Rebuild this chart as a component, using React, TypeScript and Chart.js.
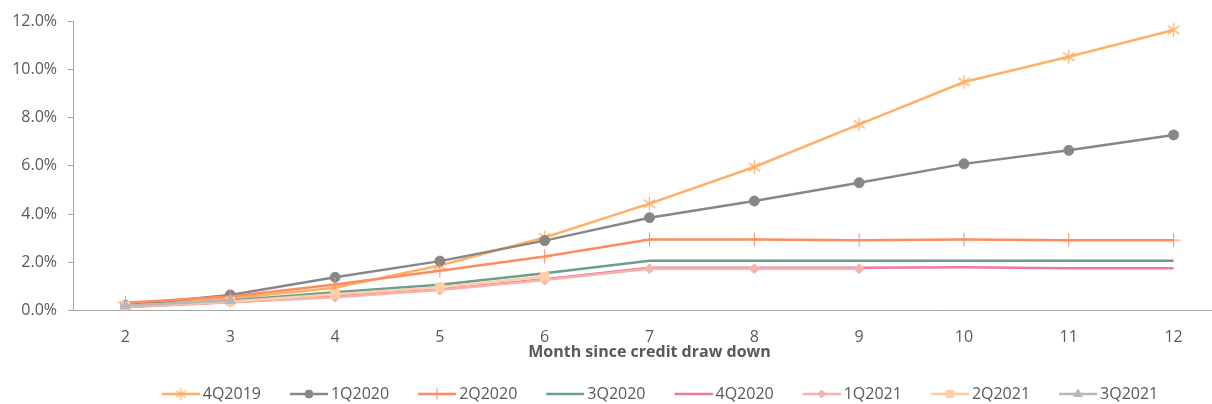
import React, { useEffect, useRef } from 'react';
import { Chart, registerables } from 'chart.js';
import { drawPoint } from 'chart.js/helpers';

Chart.register(...registerables);

const months = ['2', '3', '4', '5', '6', '7', '8', '9', '10', '11', '12'];
const seriesNames = ['4Q2019', '1Q2020', '2Q2020', '3Q2020', '4Q2020', '1Q2021', '2Q2021', '3Q2021'];
const s4Q2019 = [0.2, 0.5, 0.95, 1.87, 3.03, 4.43, 5.95, 7.72, 9.47, 10.52, 11.63];
const s1Q2020 = [0.22, 0.65, 1.38, 2.05, 2.9, 3.85, 4.54, 5.3, 6.08, 6.64, 7.28];
const s2Q2020 = [0.33, 0.58, 1.08, 1.65, 2.24, 2.95, 2.95, 2.92, 2.95, 2.92, 2.92];
const s3Q2020 = [0.15, 0.42, 0.76, 1.07, 1.55, 2.07, 2.07, 2.07, 2.07, 2.07, 2.07];
const s4Q2020 = [0.15, 0.35, 0.6, 0.88, 1.3, 1.78, 1.78, 1.78, 1.8, 1.76, 1.76];
const s1Q2021 = [0.15, 0.35, 0.55, 0.85, 1.27, 1.73, 1.73, 1.73];
const s2Q2021 = [0.2, 0.38, 0.68, 0.97, 1.41];
const s3Q2021 = [0.2, 0.42];
const yTicks = [0, 2, 4, 6, 8, 10, 12];

const seriesData = [s4Q2019, s1Q2020, s2Q2020, s3Q2020, s4Q2020, s1Q2021, s2Q2021, s3Q2021];
const colors = ['#FFB066', '#878787', '#FF8C5E', '#6B9E8C', '#F07BA0', '#F4B3AE', '#FFCDA6', '#B8B8B8'];
const styles: any[] = ['asterisk', 'circle', 'cross', false, false, 'rectRot', 'rect', 'triangle'];
const radii = [6, 5, 7, 0, 0, 5, 6, 6];
const borderWidths = [1.5, 1, 1, 1, 1, 1, 1, 1];

const FONT = 'Open Sans';
const TEXT = '#595959';
const AXIS = '#A6A6A6';
const BOX_W = 54;
const CANVAS_H = 412;

function makeAsterisk(color: string, r: number) {
  const s = Math.ceil(r * 2 + 3);
  const c = document.createElement('canvas');
  c.width = s;
  c.height = s;
  const ctx = c.getContext('2d')!;
  const m = s / 2;
  ctx.strokeStyle = color;
  ctx.lineWidth = 1.3;
  ctx.beginPath();
  ctx.moveTo(m, m - r);
  ctx.lineTo(m, m + r);
  const dx = r * Math.cos(Math.PI / 5);
  const dy = r * Math.sin(Math.PI / 5);
  ctx.moveTo(m - dx, m - dy);
  ctx.lineTo(m + dx, m + dy);
  ctx.moveTo(m + dx, m - dy);
  ctx.lineTo(m - dx, m + dy);
  ctx.stroke();
  return c;
}

function makeIcon(color: string, style: any, radius: number, bw: number) {
  const w = BOX_W + 10;
  const h = 16;
  const lineStart = w - 38;
  const c = document.createElement('canvas');
  c.width = w;
  c.height = h;
  const ctx = c.getContext('2d')!;
  ctx.strokeStyle = color;
  ctx.lineWidth = 2.5;
  ctx.beginPath();
  ctx.moveTo(lineStart, h / 2);
  ctx.lineTo(w, h / 2);
  ctx.stroke();
  const cx = lineStart + 19;
  if (style === 'asterisk') {
    const a = makeAsterisk(color, radius);
    ctx.drawImage(a, cx - a.width / 2, h / 2 - a.height / 2);
  } else if (style) {
    ctx.fillStyle = color;
    ctx.strokeStyle = color;
    ctx.lineWidth = bw;
    drawPoint(ctx, { pointStyle: style, rotation: 0, radius: Math.max(radius - 1, 3), borderWidth: bw } as any, cx, h / 2);
  }
  return c;
}

export default function App() {
  const ref = useRef<HTMLCanvasElement>(null);
  useEffect(() => {
    if (!ref.current) return;
    const icons = seriesNames.map((_, i) => makeIcon(colors[i], styles[i], radii[i], borderWidths[i]));
    const datasets = seriesNames.map((name, i) => ({
      label: name,
      data: seriesData[i],
      borderColor: colors[i],
      backgroundColor: colors[i],
      borderWidth: 2.5,
      pointStyle: styles[i] === 'asterisk' ? makeAsterisk(colors[i], radii[i] + 1) : styles[i] || 'circle',
      pointRadius: radii[i],
      pointBorderWidth: borderWidths[i],
      pointBackgroundColor: colors[i],
      pointBorderColor: colors[i],
      tension: 0,
      order: 10 - i,
    }));
    const chart = new Chart(ref.current, {
      type: 'line',
      data: { labels: months, datasets },
      options: {
        animation: false,
        responsive: true,
        maintainAspectRatio: false,
        layout: { padding: { left: 0, right: 14, top: 21, bottom: 0 } },
        plugins: {
          legend: {
            position: 'bottom',
            fullSize: false,
            labels: {
              usePointStyle: true,
              pointStyleWidth: BOX_W,
              padding: 8,
              color: TEXT,
              font: { family: FONT, size: 16 },
              generateLabels: (ch: any) =>
                ch.data.datasets.map((ds: any, i: number) => ({
                  text: ds.label,
                  pointStyle: icons[i],
                  fillStyle: 'transparent',
                  strokeStyle: 'transparent',
                  lineWidth: 0,
                  hidden: false,
                  datasetIndex: i,
                  fontColor: TEXT,
                })),
            },
          },
          tooltip: { enabled: false },
        },
        scales: {
          x: {
            offset: true,
            grid: { display: true, drawOnChartArea: false, drawTicks: false, color: AXIS },
            border: { display: true, color: AXIS, width: 1 },
            ticks: { padding: 17, color: TEXT, font: { family: FONT, size: 16 } },
            title: {
              display: true,
              text: 'Month since credit draw down',
              color: TEXT,
              font: { family: FONT, size: 16, weight: 'bold' },
              padding: { top: -21, bottom: 16 },
            },
          },
          y: {
            min: 0,
            max: 12,
            afterBuildTicks: (s: any) => {
              s.ticks = yTicks.map((v) => ({ value: v }));
            },
            ticks: {
              padding: 11,
              color: TEXT,
              font: { family: FONT, size: 16 },
              callback: (v: any) => Number(v).toFixed(1) + '%',
            },
            grid: { drawOnChartArea: false, tickLength: 5, color: AXIS },
            border: { display: true, color: AXIS, width: 1 },
            afterFit: (s: any) => {
              s.width = 73;
            },
          },
        },
      } as any,
    });
    return () => chart.destroy();
  }, []);
  return (
    <div style={{ position: 'absolute', left: 0, top: 0, width: 1212, height: 404, overflow: 'hidden', background: '#fff' }}>
      <div style={{ position: 'relative', width: 1240, height: CANVAS_H }}>
        <canvas ref={ref} />
      </div>
    </div>
  );
}
